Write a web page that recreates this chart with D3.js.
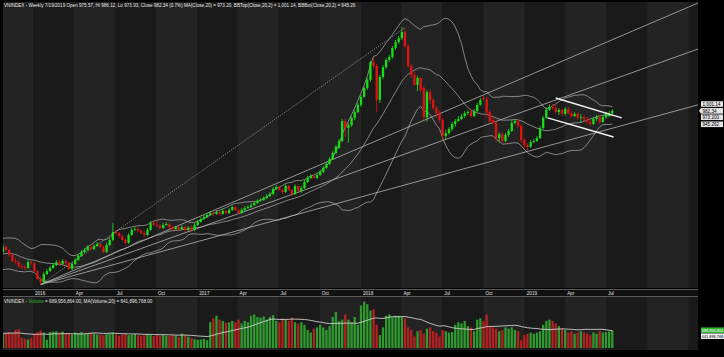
<!DOCTYPE html>
<html><head><meta charset="utf-8">
<script src="https://cdn.jsdelivr.net/npm/d3@7/dist/d3.min.js"></script>
<style>
html,body{margin:0;padding:0;background:#000;overflow:hidden}
svg{display:block}
text{font-family:"Liberation Sans",Arial,sans-serif}
</style></head><body>
<svg id="chart" width="724" height="357"></svg>
<script>
// ---------- DATA (weekly VNINDEX, first candle = week of 2015-10-26) ----------
const firstWeek = "2015-10-26";
const opens = [593,607,598,585,568,565,554,551,549,565, 562,540,518,510,532,540,549,557,565,560,
568,562,546,560,571,582,593,598,607,601, 609,615,607,593,612,626,648,645,637,626,
618,640,654,656,651,645,640,654,673,667, 665,659,667,670,662,656,662,656,662,654,
659,654,667,676,684,689,695,700,698,703, 698,706,700,709,717,709,700,709,714,717,
722,728,734,736,742,747,753,767,772,764, 758,775,764,753,775,761,769,786,797,803,
797,805,814,825,836,849,866,880,899,954, 935,943,963,979,999,1021,1045,1068,1117,1106,
1012,1076,1103,1123,1131,1156,1172,1183,1200,1161, 1106,1081,1054,1073,1045,965,1034,1012,990,976,
957,913,921,932,946,954,960,968,976,982, 968,982,999,1018,1015,979,957,949,907,918,
899,916,927,949,954,941,902,888,883,896, 899,907,935,963,985,993,990,979,985,974,
988,976,968,974,963,965,960,952,946,960, 965,952,965,968,975.57];
const closes = [607,598,585,568,565,554,551,549,565,562, 540,518,510,532,540,549,557,565,560,568,
562,546,560,571,582,593,598,607,601,609, 615,607,593,612,626,648,645,637,626,618,
640,654,656,651,645,640,654,673,667,665, 659,667,670,662,656,662,656,662,654,659,
654,667,676,684,689,695,700,698,703,698, 706,700,709,717,709,700,709,714,717,722,
728,734,736,742,747,753,767,772,764,758, 775,764,753,775,761,769,786,797,803,797,
805,814,825,836,849,866,883,899,954,935, 943,963,979,999,1021,1045,1068,1117,1106,1012,
1076,1103,1123,1131,1156,1172,1183,1200,1161,1106, 1081,1054,1073,1040,965,1034,1012,990,976,957,
913,921,932,946,954,960,968,976,979,968, 982,999,1012,1015,979,954,949,907,918,899,
916,927,949,954,941,902,888,883,896,899, 907,935,963,985,993,990,979,985,974,988,
976,968,974,963,965,960,952,946,960,965, 952,965,974,976,982.34];
const highs = [615,612,601,587,576,571,560,557,571,568, 565,543,524,538,546,554,562,571,571,573,
573,565,565,576,587,598,604,612,612,615, 620,618,609,618,631,673,654,648,642,631,
645,659,662,662,656,651,659,678,678,681, 670,673,676,673,665,665,665,667,665,665,
665,673,681,689,695,700,706,706,709,706, 712,709,714,722,720,712,714,720,722,728,
734,739,742,747,753,758,772,778,775,767, 780,778,767,780,778,775,792,803,808,808,
811,819,830,841,855,872,888,905,960,960, 949,968,985,1004,1026,1051,1073,1120,1128,1112,
1081,1109,1128,1137,1161,1178,1189,1214,1211,1167, 1112,1090,1079,1076,1051,1040,1040,1018,996,985,
963,930,938,952,960,968,974,982,985,988, 988,1004,1018,1023,1021,985,965,954,924,924,
921,932,957,960,960,946,907,894,902,905, 913,941,968,993,1001,1001,1004,990,990,993,
993,982,979,979,974,971,965,957,965,971, 971,971,979,982,986.12];
const lows = [587,596,579,565,560,549,546,543,546,557, 538,516,502,507,529,538,546,554,554,557,
557,543,543,557,568,579,590,596,598,598, 607,604,590,590,609,623,640,631,623,612,
615,637,651,648,642,634,637,651,665,662, 656,656,665,656,651,654,651,654,648,651,
648,651,665,673,681,687,692,692,695,692, 695,698,698,706,706,698,698,706,712,714,
720,725,731,734,739,745,750,764,761,753, 756,761,747,750,758,756,767,783,794,794,
794,803,811,822,833,847,863,877,896,910, 894,938,957,976,993,1018,1040,1062,1101,979,
1004,1070,1098,1117,1126,1150,1167,1178,1156,1101, 1073,1051,1037,1034,957,952,1001,985,963,949,
902,902,916,927,938,952,957,963,971,963, 965,979,996,1010,965,949,943,896,894,891,
896,910,924,946,935,894,880,874,880,894, 896,905,932,960,982,985,974,971,968,968,
971,963,965,957,949,954,946,941,943,954, 946,949,960,965,973.93];
// weekly volume, millions of shares
const volumes = [540,580,620,560,700,720,400,360,330,380, 560,620,680,600,320,620,640,650,600,640,
580,560,520,600,580,620,560,540,600,560, 520,520,500,540,560,600,520,480,520,560,
500,520,540,500,480,500,540,520,460,500, 480,500,480,460,500,480,420,560,500,440,
380,340,320,330,360,300,1000,1150,1250,1100, 1050,980,1000,1050,1000,1100,950,1050,1000,1250,
1300,1200,1180,1220,1100,1200,1280,1050,1000,1150, 1100,1050,1180,1000,950,1000,900,700,600,750,
800,900,800,700,850,1200,1400,1050,1100,1300, 1100,1000,1200,900,1650,1800,1700,1450,1500,900,
500,800,1250,1300,1200,1250,1250,1200,1150,800, 700,450,650,700,550,750,800,650,600,450,
700,650,600,620,900,1000,950,1050,850,800, 650,1100,1150,1050,1300,850,800,750,650,700,
800,750,800,700,650,300,500,550,600,550, 600,650,900,1050,1100,1050,950,850,750,700,
600,650,550,600,650,600,550,500,600,550, 650,600,620,640,689.956864];
// 19 weeks before the first visible candle (only feed the 20-week indicators)
const priorCloses = [575,578,593,600,620,630,618,612,600,560,563,565,560,568,566,568,580,590,595];
const priorVolumes = [520,540,560,600,650,680,620,560,540,700,620,560,500,520,480,500,540,560,580];

// trendlines: [startDate, startPrice, endDate, endPrice]
const dottedLines = [["2016-01-18",503,"2018-04-09",1212]];
const fanLines = [
  ["2016-01-18",503,"2020-01-22",1280],
  ["2016-01-18",503,"2020-01-22",1153],
  ["2016-01-18",503,"2020-01-22",999]
];
const channelLines = [
  ["2019-03-11",1018,"2019-08-05",963],
  ["2019-02-21",963,"2019-07-18",910]
];
const quarterNames = ["", "Apr", "Jul", "Oct"];
const headerText = "VNINDEX - Weekly 7/19/2019 Open 975.57, Hi 986.12, Lo 973.93, Close 982.34 (0.7%) MA(Close,20) = 973.20, BBTop(Close,20,2) = 1,001.14, BBBot(Close,20,2) = 945.26";
const priceTags = [
  {v:1001.14, t:"1,001.14"},
  {v:982.34, t:"982.34", ptr:true},
  {v:973.203, t:"973.203"},
  {v:945.262, t:"945.262"}
];
const volTags = [
  {v:689.956864, t:"689,956,864", fill:"#35b535", tc:"#fff"},
  {v:641.896768, t:"641,896,768", fill:"#efefef", tc:"#000"}
];

// ---------- DRAW ----------
const svg = d3.select("#chart");
const parse = d3.utcParse("%Y-%m-%d");
const start = parse(firstWeek);
const dates = opens.map((_, i) => d3.utcDay.offset(start, 7 * i));
const P = {l:3, r:698, t:2, b:288};
const V = {t:297, b:350};
const x = d3.scaleUtc().domain([parse("2016-01-01"), parse("2019-07-01")]).range([33, 606]);
const y = d3.scaleLinear().domain([499, 1280]).range([286, 3]);
const yv = d3.scaleLinear().domain([0, 1900]).range([348, 299]);

svg.append("rect").attr("width",724).attr("height",357).attr("fill","#000");

const defs = svg.append("defs");
defs.append("clipPath").attr("id","cm").append("rect").attr("x",P.l).attr("y",P.t).attr("width",P.r-P.l).attr("height",P.b-P.t);
defs.append("clipPath").attr("id","cv").append("rect").attr("x",P.l).attr("y",V.t).attr("width",P.r-P.l).attr("height",V.b-V.t);

// quarter bands
const qs = d3.utcMonth.every(3).range(parse("2015-07-01"), parse("2020-07-01"));
const bandColor = q => (q.getUTCMonth()/3) % 2 === 0 ? "#1a1a1a" : "#232323";
[["cm",P.t,P.b],["cv",V.t,V.b]].forEach(([cid,t,b]) => {
  const g = svg.append("g").attr("clip-path",`url(#${cid})`);
  g.append("rect").attr("x",P.l).attr("y",t).attr("width",P.r-P.l).attr("height",b-t).attr("fill","#1e1e1e");
  g.selectAll("rect.band").data(qs.slice(0,-1)).join("rect").attr("class","band")
    .attr("x", (d,i) => x(d)).attr("width",(d,i) => x(qs[i+1]) - x(d))
    .attr("y",t).attr("height",b-t).attr("fill",bandColor);
});

// axis strip
svg.append("rect").attr("x",P.l).attr("y",289).attr("width",P.r-P.l).attr("height",8).attr("fill","#111");
svg.append("line").attr("x1",P.l).attr("x2",P.r).attr("y1",289.5).attr("y2",289.5).attr("stroke","#5a5a5a");
svg.append("line").attr("x1",P.l).attr("x2",P.r).attr("y1",296.5).attr("y2",296.5).attr("stroke","#5a5a5a");
const tickQs = qs.filter(q => q >= parse("2016-01-01") && q <= dates[dates.length-1]);
svg.append("g").selectAll("text").data(tickQs).join("text")
  .attr("x", d => x(d) + 2).attr("y", 295).attr("font-size", 4.6).attr("fill","#e0e0e0")
  .text(d => d.getUTCMonth() === 0 ? d.getUTCFullYear() : quarterNames[d.getUTCMonth()/3]);

// indicators
const allC = priorCloses.concat(closes);
const off = priorCloses.length;
const bb = closes.map((c,i) => {
  const w = allC.slice(i+off-19, i+off+1);
  const m = d3.mean(w);
  const sd = Math.sqrt(d3.mean(w, v => (v-m)*(v-m)));
  return {d: dates[i], m, top: m + 2*sd, bot: m - 2*sd};
});
const allV = priorVolumes.concat(volumes);
const vma = volumes.map((v,i) => ({d: dates[i], m: d3.mean(allV.slice(i+off-19, i+off+1))}));

const gm = svg.append("g").attr("clip-path","url(#cm)");
const ln = k => d3.line().x(d => x(d.d)).y(d => y(d[k]));
["top","m","bot"].forEach(k => gm.append("path").datum(bb).attr("d", ln(k))
  .attr("fill","none").attr("stroke","#a0a0a0").attr("stroke-width",0.8));

const seg = (g, arr) => g.selectAll(null).data(arr).join("line")
  .attr("x1", d => x(parse(d[0]))).attr("y1", d => y(d[1]))
  .attr("x2", d => x(parse(d[2]))).attr("y2", d => y(d[3]));
seg(gm, dottedLines).attr("stroke","#b0b0b0").attr("stroke-width",0.7).attr("stroke-dasharray","1.2,1.2");
seg(gm, fanLines).attr("stroke","#b5b5b5").attr("stroke-width",0.8);

// candles
const up = i => closes[i] >= opens[i];
const cw = 2.3;
const gc = gm.append("g");
gc.selectAll("line").data(dates).join("line")
  .attr("x1",(d)=>x(d)).attr("x2",(d)=>x(d))
  .attr("y1",(d,i)=>y(highs[i])).attr("y2",(d,i)=>y(lows[i]))
  .attr("stroke",(d,i)=>up(i)?"#16e016":"#e01212").attr("stroke-width",0.8);
gc.selectAll("rect").data(dates).join("rect")
  .attr("x",d=>x(d)-cw/2).attr("width",cw)
  .attr("y",(d,i)=>y(Math.max(opens[i],closes[i])))
  .attr("height",(d,i)=>Math.max(0.8, Math.abs(y(opens[i])-y(closes[i]))))
  .attr("fill",(d,i)=>up(i)?"#16e016":"#e01212");

seg(gm, channelLines).attr("stroke","#f4f4f4").attr("stroke-width",1.5);

// header
svg.append("text").attr("x",4).attr("y",6.5).attr("font-size",4.6).attr("fill","#e6e6e6").text(headerText);

// price tags
function stack(items, sc, gap){
  const s = items.map(d => ({...d, yy: sc(d.v)})).sort((a,b)=>a.yy-b.yy);
  for (let i=1;i<s.length;i++) if (s[i].yy < s[i-1].yy + gap) s[i].yy = s[i-1].yy + gap;
  return s;
}
const pt = stack(priceTags, y, 6.4);
const gt = svg.append("g");
pt.forEach(d => {
  gt.append("rect").attr("x",701).attr("y",d.yy-2.8).attr("width",22).attr("height",5.6).attr("fill","#e4e4e4");
  if (d.ptr) gt.append("path").attr("d",`M699,${d.yy} L701,${d.yy-2.8} L701,${d.yy+2.8}Z`).attr("fill","#e4e4e4");
  gt.append("text").attr("x",702.5).attr("y",d.yy+1.7).attr("font-size",4.6).attr("fill","#000").text(d.t);
});

// volume panel
const gv = svg.append("g").attr("clip-path","url(#cv)");
gv.selectAll("rect.vb").data(dates).join("rect").attr("class","vb")
  .attr("x",d=>x(d)-cw/2).attr("width",cw)
  .attr("y",(d,i)=>yv(volumes[i])).attr("height",(d,i)=>yv(0)-yv(volumes[i]))
  .attr("fill",(d,i)=>up(i)?"#2f9a2f":"#b52020");
gv.append("path").datum(vma).attr("d", d3.line().x(d=>x(d.d)).y(d=>yv(d.m)))
  .attr("fill","none").attr("stroke","#cfcfcf").attr("stroke-width",0.9);
const vh = svg.append("text").attr("x",4).attr("y",302.5).attr("font-size",4.6).attr("fill","#e6e6e6");
vh.append("tspan").text("VNINDEX - ");
vh.append("tspan").attr("fill","#2fbf2f").text("Volume");
vh.append("tspan").text(" = 689,956,864.00, MA(Volume,20) = 641,896,768.00");
stack(volTags, yv, 6).forEach(d => {
  svg.append("rect").attr("x",701).attr("y",d.yy-2.8).attr("width",23).attr("height",5.6).attr("fill",d.fill);
  svg.append("text").attr("x",701.8).attr("y",d.yy+1.6).attr("font-size",4.2).attr("fill",d.tc)
    .attr("textLength",21.4).attr("lengthAdjust","spacingAndGlyphs").text(d.t);
});
</script>
</body></html>
